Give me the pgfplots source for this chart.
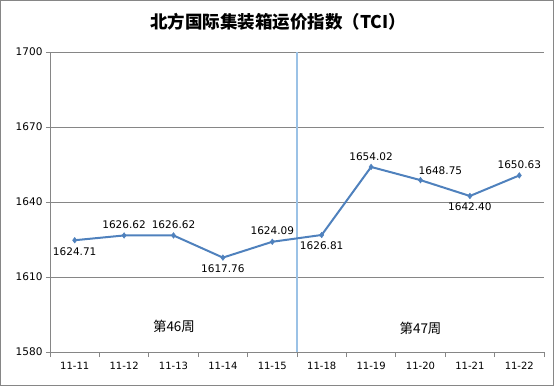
\documentclass[border=0pt]{standalone}
\usepackage{fontspec}
\setmainfont{DejaVu Sans}
\newfontfamily\cjk{Noto Sans CJK SC}
\usepackage{pgfplots}
\pgfplotsset{compat=1.18}
\definecolor{lineblue}{RGB}{79,129,189}
\definecolor{vblue}{RGB}{155,194,230}
\definecolor{gridgray}{RGB}{134,134,134}

\begin{document}
\begin{tikzpicture}[x=1pt,y=1pt]
\path[use as bounding box] (0,0) rectangle (554,386);
\draw[gridgray, line width=0.8pt] (0.5,0.5) rectangle (553.5,385.5);
\node[font=\cjk\bfseries\fontsize{17.5}{20}\selectfont] at (278,364) {北方国际集装箱运价指数（TCI）};
\begin{axis}[
  at={(50pt,34pt)}, anchor=south west,
  width=494pt, height=300pt, scale only axis,
  xmin=0.5, xmax=10.5, ymin=1580, ymax=1700,
  ytick={1580,1610,1640,1670,1700},
  xtick={1,...,10},
  xticklabels={11-11,11-12,11-13,11-14,11-15,11-18,11-19,11-20,11-21,11-22},
  minor xtick={0.5,1.5,...,10.5},
  axis lines*=left,
  axis line style={gridgray, line width=0.8pt},
  ymajorgrids, grid style={gridgray, line width=0.8pt},
  major x tick style={draw=none},
  minor x tick style={gridgray, line width=0.8pt},
  major y tick style={gridgray, line width=0.8pt},
  tick align=outside,
  major tick length=4pt, minor tick length=5pt,
  /pgf/number format/assume math mode=true,
  /pgf/number format/1000 sep={},
  yticklabel style={font=\fontsize{10.5}{12}\selectfont, xshift=0pt},
  xticklabel style={font=\fontsize{10}{12}\selectfont, yshift=-3pt},
  clip=false,
  lab/.style={draw=none, mark=none, forget plot, point meta=explicit symbolic,
    nodes near coords, every node near coord/.append style={font=\fontsize{10.5}{12}\selectfont, text=black, inner sep=4pt}},
]
\addplot[vblue, line width=1.2pt, forget plot] coordinates {(5.5,1580) (5.5,1700)};
\addplot[lineblue, line width=2pt, mark=diamond*, mark size=2.8pt,
  mark options={fill=lineblue, line width=0.5pt}] coordinates {
  (1,1624.71) (2,1626.62) (3,1626.62) (4,1617.76) (5,1624.09)
  (6,1626.81) (7,1654.02) (8,1648.75) (9,1642.40) (10,1650.63)};
% labels above
\addplot[lab, every node near coord/.append style={anchor=south, yshift=2.5pt}] coordinates {
  (2,1626.62) [1626.62] (3,1626.62) [1626.62] (5,1624.09) [1624.09]
  (7,1654.02) [1654.02] (10,1650.63) [1650.63]};
% labels below
\addplot[lab, every node near coord/.append style={anchor=north, yshift=-3pt}] coordinates {
  (1,1624.71) [1624.71] (4,1617.76) [1617.76] (6,1626.81) [1626.81]
  (9,1642.40) [1642.40]};
% label above right
\addplot[lab, every node near coord/.append style={anchor=south west, xshift=-6pt, yshift=1pt}] coordinates {
  (8,1648.75) [1648.75]};
\node[font=\cjk\fontsize{13.5}{15}\selectfont] at (axis cs:3.01,1590.1) {第46周};
\node[font=\cjk\fontsize{13.5}{15}\selectfont] at (axis cs:8.0,1589.6) {第47周};
\end{axis}
\end{tikzpicture}
\end{document}
